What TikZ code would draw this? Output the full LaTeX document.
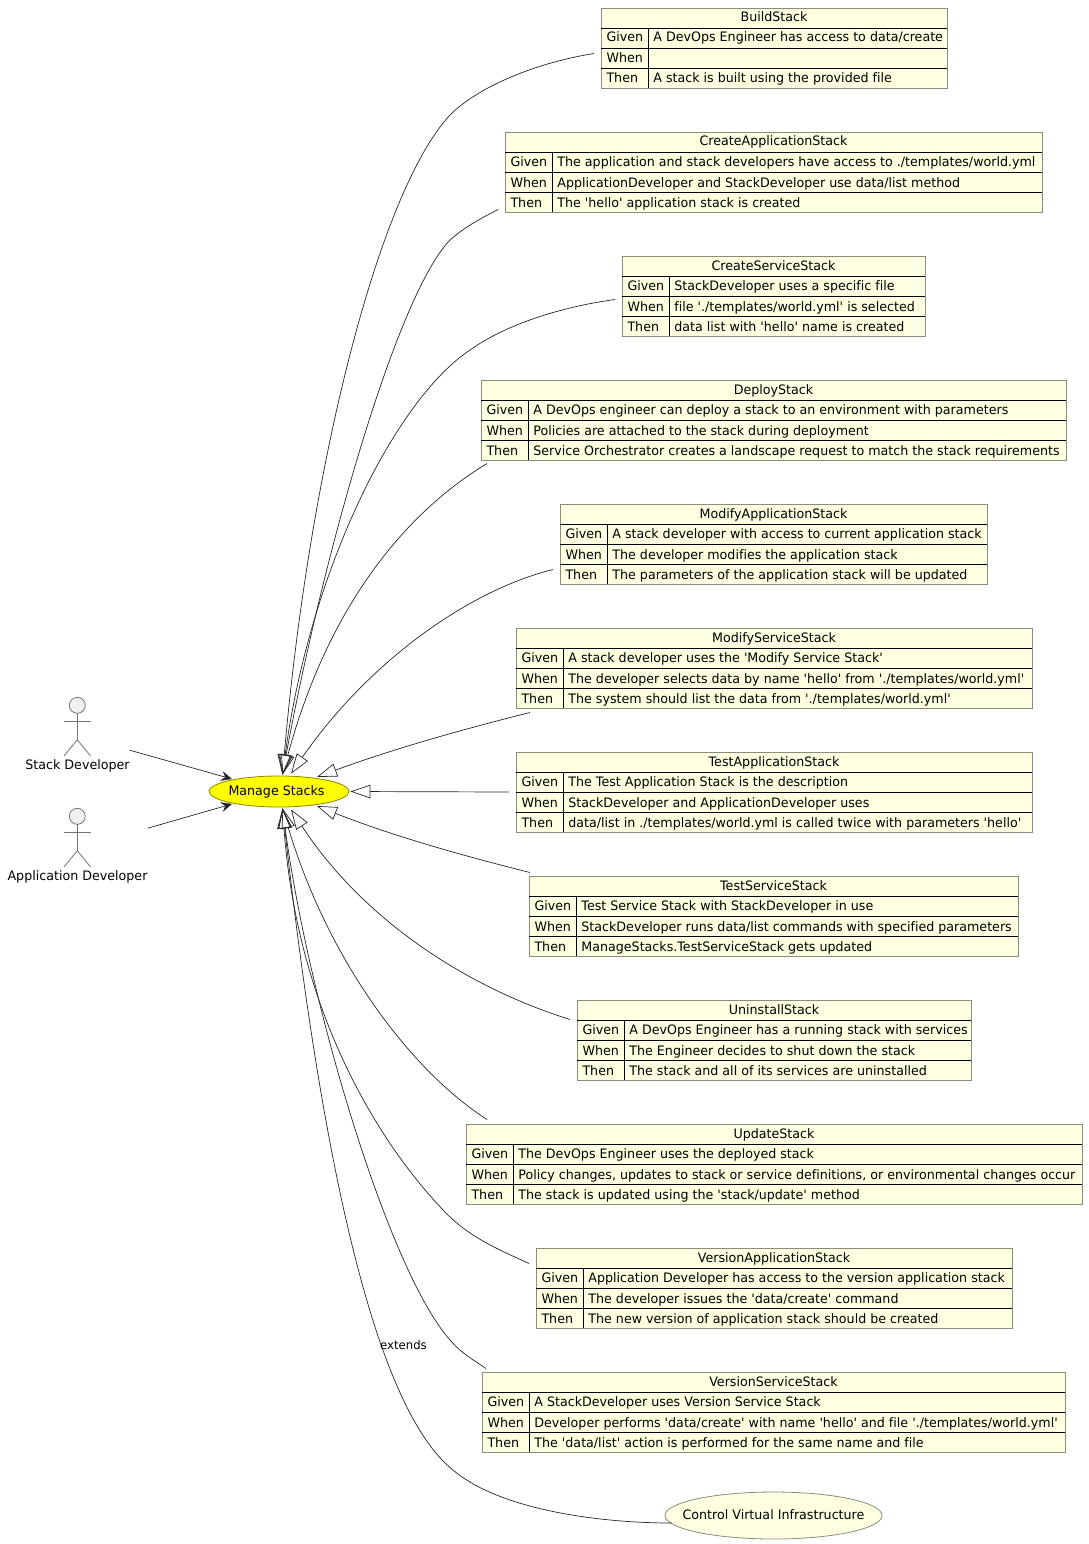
\documentclass[tikz,border=0pt]{standalone}
\usepackage{fontspec}
\newfontfamily\umlfont[Ligatures=NoCommon,FakeStretch=0.974]{DejaVu Sans}
\usetikzlibrary{shapes.geometric}
\usetikzlibrary{arrows.meta}
\definecolor{tablefill}{HTML}{FEFEE0}
\definecolor{tableborder}{HTML}{8C8C7C}
\definecolor{managefill}{RGB}{255,255,0}
\tikzset{
	umltext/.style={font=\umlfont\fontsize{13}{15}\selectfont, inner sep=0pt},
	tablebox/.style={draw=tableborder, fill=tablefill, line width=1pt, minimum height=80pt, inner sep=0pt, anchor=north west},
	rowline/.style={draw=black, line width=0.8pt},
	extendsline/.style={draw=black!85, line width=0.7pt, -{Triangle[open,length=20pt,width=13.5pt]}},
	assocline/.style={draw=black!85, line width=0.7pt, -{Stealth[length=11pt,width=10pt,inset=4pt]}},
	actorline/.style={draw=black!55, line width=0.8pt},
}
\newcommand{\stacktable}[8]{
	\node[tablebox, minimum width={#3pt-#2pt}] (#1) at (#2,#4) {};
	\foreach \rowy in {20,40,60}
		\draw[rowline] (#2,{#4+\rowy}) -- (#3,{#4+\rowy});
	\draw[rowline] ({#2+47},{#4+20}) -- ({#2+47},{#4+80});
	\node[umltext, anchor=base] (#1title) at ({(#2+#3)/2},{#4+14}) {#5};
	\node[umltext, anchor=base west] (#1givenlabel) at ({#2+5.3},{#4+34}) {Given};
	\node[umltext, anchor=base west] (#1whenlabel) at ({#2+5.3},{#4+55}) {When};
	\node[umltext, anchor=base west] (#1thenlabel) at ({#2+5.3},{#4+75}) {Then};
	\node[umltext, anchor=base west] (#1given) at ({#2+52.2},{#4+34}) {#6};
	\node[umltext, anchor=base west] (#1when) at ({#2+52.2},{#4+55}) {#7};
	\node[umltext, anchor=base west] (#1then) at ({#2+52.2},{#4+75}) {#8};
}
\newcommand{\actorfigure}[4]{
	\draw[actorline, fill=black!6] (#2,{#3+8}) circle (8pt);
	\draw[actorline] (#2,{#3+16}) -- (#2,{#3+42.5});
	\draw[actorline] ({#2-13.2},{#3+24}) -- ({#2+13.2},{#3+24});
	\draw[actorline] ({#2-13.2},{#3+58.5}) -- (#2,{#3+42.5}) -- ({#2+13.2},{#3+58.5});
	\node[umltext, anchor=base] (#1) at ({#2+0.2},{#3+72.5}) {#4};
}
\begin{document}
\begin{tikzpicture}[x=1pt, y=-1pt]
	\useasboundingbox (0,0) rectangle (1088,1544);

	\stacktable{build}{601}{947}{8}{BuildStack}{A DevOps Engineer has access to data/create}{}{A stack is built using the provided file}
	\stacktable{createapp}{505}{1042}{132}{CreateApplicationStack}{The application and stack developers have access to ./templates/world.yml}{ApplicationDeveloper and StackDeveloper use data/list method}{The 'hello' application stack is created}
	\stacktable{createservice}{622}{925}{256}{CreateServiceStack}{StackDeveloper uses a specific file}{file './templates/world.yml' is selected}{data list with 'hello' name is created}
	\stacktable{deploy}{481}{1066}{380}{DeployStack}{A DevOps engineer can deploy a stack to an environment with parameters}{Policies are attached to the stack during deployment}{Service Orchestrator creates a landscape request to match the stack requirements}
	\stacktable{modifyapp}{560}{987}{504}{ModifyApplicationStack}{A stack developer with access to current application stack}{The developer modifies the application stack}{The parameters of the application stack will be updated}
	\stacktable{modifyservice}{516}{1032}{628}{ModifyServiceStack}{A stack developer uses the 'Modify Service Stack'}{The developer selects data by name 'hello' from './templates/world.yml'}{The system should list the data from './templates/world.yml'}
	\stacktable{testapp}{516}{1032}{752}{TestApplicationStack}{The Test Application Stack is the description}{StackDeveloper and ApplicationDeveloper uses}{data/list in ./templates/world.yml is called twice with parameters 'hello'}
	\stacktable{testservice}{529}{1018}{876}{TestServiceStack}{Test Service Stack with StackDeveloper in use}{StackDeveloper runs data/list commands with specified parameters}{ManageStacks.TestServiceStack gets updated}
	\stacktable{uninstall}{577}{971}{1000}{UninstallStack}{A DevOps Engineer has a running stack with services}{The Engineer decides to shut down the stack}{The stack and all of its services are uninstalled}
	\stacktable{update}{466}{1082}{1124}{UpdateStack}{The DevOps Engineer uses the deployed stack}{Policy changes, updates to stack or service definitions, or environmental changes occur}{The stack is updated using the 'stack/update' method}
	\stacktable{versionapp}{536}{1012}{1248}{VersionApplicationStack}{Application Developer has access to the version application stack}{The developer issues the 'data/create' command}{The new version of application stack should be created}
	\stacktable{versionservice}{482}{1065}{1372}{VersionServiceStack}{A StackDeveloper uses Version Service Stack}{Developer performs 'data/create' with name 'hello' and file './templates/world.yml'}{The 'data/list' action is performed for the same name and file}

	\node[umltext, shape=ellipse, draw=olive, fill=managefill, line width=0.8pt, minimum width=140pt, minimum height=31pt] (manage) at (279,791.5) {\makebox[0pt]{\kern-5pt Manage Stacks}};
	\node[umltext, shape=ellipse, draw=tableborder, fill=tablefill, line width=0.8pt, minimum width=217pt, minimum height=47pt] (control) at (773.5,1515.5) {\makebox[0pt]{\raisebox{2pt}{Control Virtual Infrastructure}}};

	\actorfigure{stackdev}{77.3}{697.3}{Stack Developer}
	\actorfigure{appdev}{77.3}{808.3}{Application Developer}

	\draw[assocline] ([shift={(0,-16)}]stackdev.east) -- ([shift={(-47,-12.5)}]manage.center);
	\draw[assocline] ([shift={(0,-49)}]appdev.east) -- ([shift={(-47,12.5)}]manage.center);

	\draw[extendsline] ([shift={(-7,5)}]build.west) .. controls (540,62) and (480,85) .. (450,115) .. controls (380,190) and (310,460) .. ([shift={(3.5,-1)}]manage.north);
	\draw[extendsline] ([shift={(-7,37)}]createapp.west) .. controls (480,219) and (466,226) .. (450,240) .. controls (396,296) and (322,560) .. ([shift={(3.5,-1)}]manage.north);
	\draw[extendsline] ([shift={(-7,3)}]createservice.west) .. controls (560,307) and (505,325) .. (470,350) .. controls (395,400) and (310,570) .. ([shift={(3.5,-1)}]manage.north);
	\draw[extendsline] ([shift={(6,43)}]deploy.west) .. controls (410,510) and (330,600) .. ([shift={(3.5,-1)}]manage.north);
	\draw[extendsline] ([shift={(-7,25)}]modifyapp.west) .. controls (470,590) and (370,660) .. ([shift={(12,-2)}]manage.north);
	\draw[extendsline] ([shift={(14,44)}]modifyservice.west) .. controls (460,730) and (390,750) .. ([shift={(38,-14.5)}]manage.center);
	\draw[extendsline] ([shift={(-7,-0.5)}]testapp.west) -- ([shift={(1,0)}]manage.east);
	\draw[extendsline] ([shift={(1,-44)}]testservice.west) .. controls (460,855) and (390,835) .. ([shift={(38,14.5)}]manage.center);
	\draw[extendsline] ([shift={(-7,-21)}]uninstall.west) .. controls (460,985) and (360,915) .. ([shift={(12,2)}]manage.south);
	\draw[extendsline] ([shift={(21,-45)}]update.west) .. controls (410,1070) and (328,960) .. ([shift={(3.5,1)}]manage.south);
	\draw[extendsline] ([shift={(-7,-25)}]versionapp.west) .. controls (500,1250) and (470,1238) .. (445,1212) .. controls (385,1150) and (298,1020) .. ([shift={(3.5,1)}]manage.south);
	\draw[extendsline] ([shift={(4,-44)}]versionservice.west) .. controls (474,1360) and (462,1354) .. (450,1340) .. controls (388,1270) and (308,1000) .. ([shift={(3.5,1)}]manage.south);
	\draw[extendsline] ([shift={(7,7.5)}]control.west) .. controls (600,1523) and (500,1510) .. (453,1470) .. controls (365,1400) and (315,1100) .. ([shift={(3.5,1)}]manage.south);

	\node[umltext, font=\umlfont\fontsize{12}{14}\selectfont] (extendslabel) at (403.5,1345) {extends};
\end{tikzpicture}
\end{document}
